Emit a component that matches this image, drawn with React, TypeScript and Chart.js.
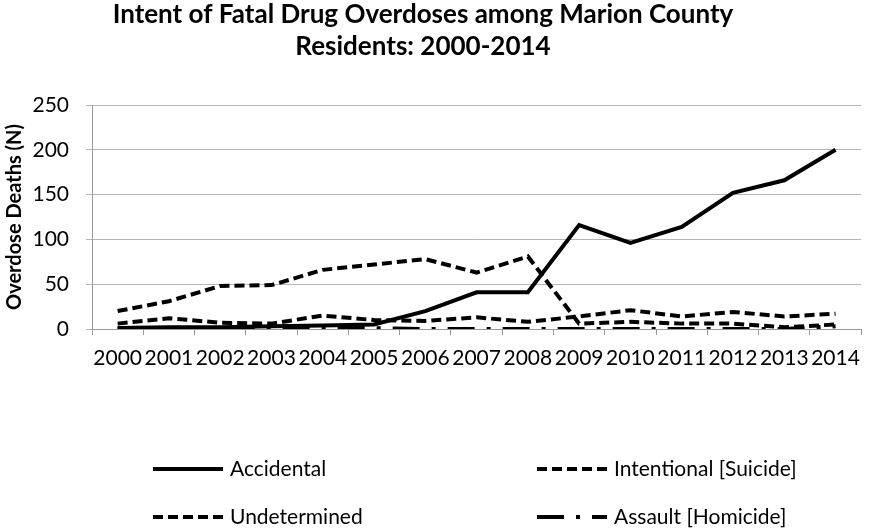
import React, { useEffect, useRef } from "react";
import { Chart, registerables } from "chart.js";

Chart.register(...registerables);

const years = ["2000","2001","2002","2003","2004","2005","2006","2007","2008","2009","2010","2011","2012","2013","2014"];
const accidental = [1, 2, 2, 3, 4, 5, 20, 41, 41, 116, 96, 114, 152, 166, 200];
const intentional = [6, 12, 7, 6, 15, 10, 9, 13, 8, 14, 21, 14, 19, 14, 17];
const undetermined = [20, 31, 48, 49, 66, 72, 78, 63, 81, 6, 8, 6, 6, 2, 5];
const assault = [1, 1, 1, 1, 1, 1, 0, 0, 0, 0, 0, 0, 0, 0, 3];
const yTicks = [0, 50, 100, 150, 200, 250];

const titleLines = ["Intent of Fatal Drug Overdoses among Marion County", "Residents: 2000-2014"];
const yTitle = "Overdose Deaths (N)";

const FONT = "Lato, 'Open Sans', 'Liberation Sans', sans-serif";

const titlePlugin = {
  id: "customTitle",
  afterDraw(chart: any) {
    const ctx = chart.ctx;
    ctx.save();
    ctx.fillStyle = "#000";
    ctx.font = `bold 26px ${FONT}`;
    ctx.textAlign = "center";
    ctx.textBaseline = "alphabetic";
    const cx = 423;
    ctx.fillText(titleLines[0], cx, 23);
    ctx.fillText(titleLines[1], cx, 55);
    ctx.restore();
  },
};

const legendPlugin = {
  id: "gridLegend",
  afterDraw(chart: any) {
    const ctx = chart.ctx;
    const colX = [153, 537];
    const rowY = [469, 517];
    const lineLen = 70;
    ctx.save();
    chart.data.datasets.forEach((ds: any, i: number) => {
      const x = colX[i % 2];
      const y = rowY[Math.floor(i / 2)];
      ctx.strokeStyle = ds.borderColor;
      ctx.lineWidth = ds.borderWidth;
      ctx.lineCap = "butt";
      ctx.setLineDash(ds.borderDash || []);
      ctx.beginPath();
      ctx.moveTo(x, y);
      ctx.lineTo(x + lineLen, y);
      ctx.stroke();
      ctx.setLineDash([]);
      ctx.fillStyle = "#000";
      ctx.font = `21px ${FONT}`;
      ctx.textAlign = "left";
      ctx.textBaseline = "middle";
      ctx.fillText(ds.label, x + lineLen + 7, y);
    });
    ctx.restore();
  },
};

export default function App() {
  const ref = useRef<HTMLCanvasElement | null>(null);

  useEffect(() => {
    document.body.style.margin = "0";
    if (!ref.current) return;
    const chart = new Chart(ref.current, {
      type: "line",
      data: {
        labels: years,
        datasets: [
          { label: "Accidental", data: accidental, order: 3, borderColor: "#000", borderWidth: 4, borderDash: [], pointRadius: 0, tension: 0, fill: false },
          { label: "Intentional [Suicide]", data: intentional, order: 2, borderColor: "#000", borderWidth: 4, borderDash: [10, 5], pointRadius: 0, tension: 0, fill: false },
          { label: "Undetermined", data: undetermined, order: 1, borderColor: "#000", borderWidth: 4, borderDash: [10, 5], pointRadius: 0, tension: 0, fill: false },
          { label: "Assault [Homicide]", data: assault, order: 0, borderColor: "#000", borderWidth: 4, borderDash: [27, 12, 4, 12], pointRadius: 0, tension: 0, fill: false },
        ],
      },
      options: {
        responsive: false,
        animation: false,
        layout: { padding: { top: 105, right: 3, bottom: 150, left: 0 } },
        plugins: {
          legend: { display: false },
          title: { display: false },
          tooltip: { enabled: false },
        },
        scales: {
          x: {
            type: "category",
            offset: true,
            afterFit: (s: any) => { s.height = 50; },
            grid: {
              offset: true,
              drawOnChartArea: false,
              drawTicks: true,
              tickLength: 6,
              color: "#999",
            },
            border: { display: true, color: "#999", width: 1 },
            ticks: {
              color: "#000",
              font: { family: FONT, size: 21 },
              padding: 11,
              maxRotation: 0,
              autoSkip: false,
            },
          },
          y: {
            min: 0,
            max: 250,
            afterFit: (s: any) => { s.width = 92; },
            afterBuildTicks: (s: any) => { s.ticks = yTicks.map((v) => ({ value: v })); },
            grid: {
              color: "#b5b5b5",
              drawTicks: true,
              tickLength: 6,
            },
            border: { display: true, color: "#999", width: 1 },
            ticks: {
              color: "#000",
              font: { family: FONT, size: 21 },
              padding: 17,
            },
            title: {
              display: true,
              text: yTitle,
              color: "#000",
              font: { family: FONT, size: 20, weight: "bold" },
              padding: { top: 3, bottom: 0 },
            },
          },
        },
      },
      plugins: [titlePlugin, legendPlugin],
    });
    return () => chart.destroy();
  }, []);

  return (
    <div style={{ position: "absolute", left: 0, top: 0, width: 871, height: 529, background: "#fff" }}>
      <canvas ref={ref} width={871} height={529} />
    </div>
  );
}
